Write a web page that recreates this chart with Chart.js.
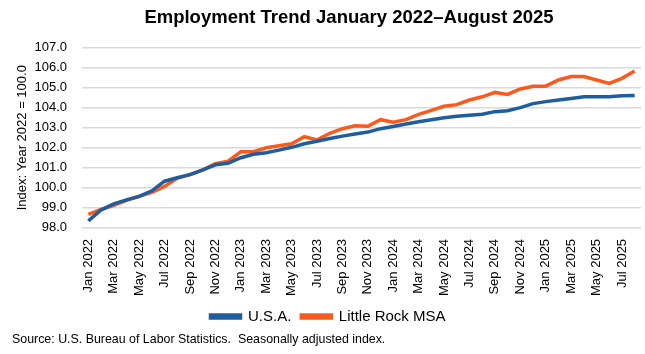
<!DOCTYPE html>
<html>
<head>
<meta charset="utf-8">
<script src="https://cdn.jsdelivr.net/npm/chart.js@4"></script>
<style>
  html, body { margin: 0; padding: 0; background: #ffffff; }
  #wrap { width: 645px; height: 354px; }
</style>
</head>
<body>
<div id="wrap"><canvas id="myChart" width="645" height="354"></canvas></div>
<script>
var months = ['Jan', 'Feb', 'Mar', 'Apr', 'May', 'Jun', 'Jul', 'Aug', 'Sep', 'Oct', 'Nov', 'Dec'];
var labels = [];
for (var y = 2022; y <= 2025; y++) {
    for (var m = 0; m < 12; m++) {
        if (y === 2025 && m > 7) break;
        labels.push(months[m] + ' ' + y);
    }
}

var usa = [98.35, 98.9, 99.2, 99.4, 99.57, 99.85, 100.33, 100.5, 100.66, 100.9,
    101.15, 101.22, 101.5, 101.67, 101.75, 101.88, 102.02, 102.2, 102.32, 102.46,
    102.58, 102.68, 102.78, 102.95, 103.06, 103.18, 103.3, 103.4, 103.5, 103.57,
    103.62, 103.67, 103.8, 103.85, 104.0, 104.2, 104.3, 104.38, 104.46, 104.54,
    104.54, 104.54, 104.59, 104.61];

var littleRock = [98.67, 98.92, 99.12, 99.37, 99.57, 99.77, 100.07, 100.49, 100.66, 100.88,
    101.2, 101.33, 101.8, 101.8, 102.0, 102.1, 102.2, 102.55, 102.39, 102.72,
    102.95, 103.1, 103.07, 103.4, 103.27, 103.4, 103.66, 103.86, 104.07, 104.15,
    104.38, 104.54, 104.76, 104.66, 104.93, 105.07, 105.07, 105.38, 105.55, 105.55,
    105.38, 105.21, 105.46, 105.83];

var titleText = 'Employment Trend January 2022\u2013August 2025';
var sourceText = 'Source: U.S. Bureau of Labor Statistics.  Seasonally adjusted index.';

var blue = '#1f5d9e';
var orange = '#fb5a1f';

// title and source note drawn by hand so they sit where the original has them
var textPlugin = {
    id: 'texts',
    afterDraw: function (chart) {
        var c = chart.ctx;
        c.save();
        c.fillStyle = '#000000';
        c.textBaseline = 'middle';
        c.textAlign = 'center';
        c.font = 'bold 18.5px "Liberation Sans", Arial';
        c.fillText(titleText, 349, 18);
        c.textAlign = 'left';
        c.font = '12.4px "Liberation Sans", Arial';
        c.fillText(sourceText, 12, 340);
        c.restore();
    }
};

var ctx = document.getElementById('myChart').getContext('2d');
var myChart = new Chart(ctx, {
    type: 'line',
    data: {
        labels: labels,
        datasets: [{
            label: 'U.S.A.',
            data: usa,
            borderColor: blue,
            backgroundColor: blue,
            borderWidth: 3.5,
            pointRadius: 0,
            tension: 0
        }, {
            label: 'Little Rock MSA',
            data: littleRock,
            borderColor: orange,
            backgroundColor: orange,
            borderWidth: 3.5,
            pointRadius: 0,
            tension: 0
        }]
    },
    options: {
        responsive: false,
        animation: false,
        layout: { padding: { left: 15, right: 4, top: 47.5, bottom: 20 } },
        scales: {
            x: {
                offset: true,
                grid: { display: false },
                border: { display: false },
                ticks: {
                    autoSkip: false,
                    maxRotation: 90,
                    minRotation: 90,
                    padding: 3,
                    color: '#000000',
                    font: { family: 'Liberation Sans, Arial', size: 13 },
                    callback: function (value, index) {
                        return index % 2 === 0 ? labels[index] : null;
                    }
                }
            },
            y: {
                min: 98,
                max: 107,
                border: { display: false },
                grid: { color: '#d9d9d9', lineWidth: 1.5, drawTicks: false },
                afterFit: function (scale) { scale.width = 67; },
                ticks: {
                    stepSize: 1,
                    padding: 15,
                    color: '#000000',
                    font: { family: 'Liberation Sans, Arial', size: 13 },
                    callback: function (value) { return value.toFixed(1); }
                },
                title: {
                    display: true,
                    text: 'Index: Year 2022 = 100.0',
                    color: '#000000',
                    font: { family: 'Liberation Sans, Arial', size: 13 },
                    padding: { top: 0, bottom: 3 }
                }
            }
        },
        plugins: {
            title: { display: false },
            legend: {
                position: 'bottom',
                labels: {
                    boxWidth: 30,
                    boxHeight: 3,
                    color: '#000000',
                    padding: 10,
                    font: { family: 'Liberation Sans, Arial', size: 15 }
                }
            },
            tooltip: { enabled: false }
        }
    },
    plugins: [textPlugin]
});
</script>
</body>
</html>
